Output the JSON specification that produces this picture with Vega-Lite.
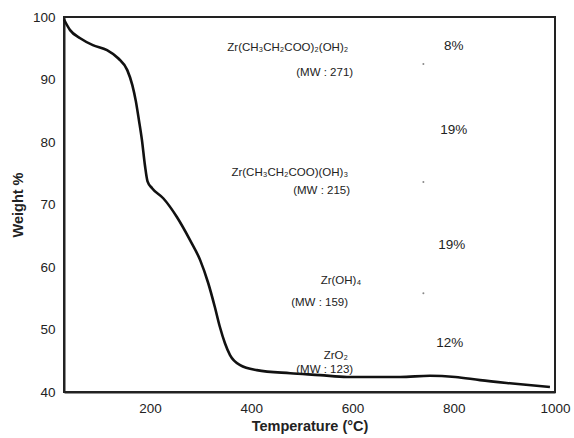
{
  "$schema": "https://vega.github.io/schema/vega-lite/v6.json",
  "width": 491,
  "height": 375,
  "autosize": "none",
  "padding": {"left": 64, "top": 17, "right": 19, "bottom": 46},
  "background": "white",
  "config": {
    "font": "Liberation Sans",
    "view": {"stroke": "#222", "strokeWidth": 2},
    "axis": {
      "grid": false,
      "ticks": false,
      "domainColor": "#222",
      "domainWidth": 2,
      "labelColor": "#222",
      "labelFontSize": 13.5,
      "titleColor": "#222",
      "titleFontSize": 14.5,
      "titleFontWeight": "bold"
    }
  },
  "datasets": {
    "tga": [
      {"t": 30, "w": 99.6},
      {"t": 42, "w": 97.9},
      {"t": 62, "w": 96.6},
      {"t": 87, "w": 95.5},
      {"t": 115, "w": 94.7},
      {"t": 137, "w": 93.4},
      {"t": 155, "w": 91.5},
      {"t": 165, "w": 89.1},
      {"t": 172, "w": 86.5},
      {"t": 178, "w": 83.5},
      {"t": 184, "w": 80.3},
      {"t": 190, "w": 76.2},
      {"t": 195, "w": 73.7},
      {"t": 204, "w": 72.6},
      {"t": 226, "w": 71.0},
      {"t": 253, "w": 68.0},
      {"t": 279, "w": 64.3},
      {"t": 299, "w": 61.1},
      {"t": 315, "w": 57.4},
      {"t": 328, "w": 53.6},
      {"t": 338, "w": 50.4},
      {"t": 348, "w": 47.8},
      {"t": 358, "w": 45.9},
      {"t": 378, "w": 44.3},
      {"t": 411, "w": 43.5},
      {"t": 477, "w": 43.0},
      {"t": 536, "w": 42.7},
      {"t": 589, "w": 42.4},
      {"t": 694, "w": 42.4},
      {"t": 753, "w": 42.6},
      {"t": 803, "w": 42.4},
      {"t": 852, "w": 41.9},
      {"t": 911, "w": 41.4},
      {"t": 990, "w": 40.8}
    ],
    "species": [
      {"t": 472, "w": 95.0, "label": "Zr(CH₃CH₂COO)₂(OH)₂"},
      {"t": 545, "w": 91.1, "label": "(MW : 271)"},
      {"t": 476, "w": 75.0, "label": "Zr(CH₃CH₂COO)(OH)₃"},
      {"t": 539, "w": 72.1, "label": "(MW : 215)"},
      {"t": 577, "w": 57.7, "label": "Zr(OH)₄"},
      {"t": 535, "w": 54.3, "label": "(MW : 159)"},
      {"t": 567, "w": 45.7, "label": "ZrO₂"},
      {"t": 545, "w": 43.5, "label": "(MW : 123)"}
    ],
    "losses": [
      {"t": 800, "w": 95.3, "label": "8%"},
      {"t": 800, "w": 82.0, "label": "19%"},
      {"t": 796, "w": 63.5, "label": "19%"},
      {"t": 792, "w": 47.8, "label": "12%"}
    ],
    "marks": [
      {"t": 740, "w": 92.5},
      {"t": 740, "w": 73.6},
      {"t": 740, "w": 55.8}
    ]
  },
  "encoding": {
    "x": {
      "field": "t",
      "type": "quantitative",
      "scale": {"domain": [30, 1000], "nice": false, "zero": false},
      "axis": {
        "title": "Temperature (°C)",
        "values": [200, 400, 600, 800, 1000],
        "format": "d",
        "labelPadding": 9,
        "titlePadding": 5,
        "labelFlush": false
      }
    },
    "y": {
      "field": "w",
      "type": "quantitative",
      "scale": {"domain": [40, 100], "nice": false, "zero": false},
      "axis": {
        "title": "Weight %",
        "values": [40, 50, 60, 70, 80, 90, 100],
        "labelPadding": 9,
        "titlePadding": 7,
        "labelFlush": false
      }
    }
  },
  "layer": [
    {
      "data": {"name": "tga"},
      "mark": {"type": "line", "interpolate": "monotone", "color": "#111", "strokeWidth": 2.6}
    },
    {
      "data": {"name": "species"},
      "mark": {"type": "text", "fontSize": 11.5, "color": "#222", "align": "center", "baseline": "middle"},
      "encoding": {"text": {"field": "label"}}
    },
    {
      "data": {"name": "losses"},
      "mark": {"type": "text", "fontSize": 13.5, "color": "#222", "align": "center", "baseline": "middle"},
      "encoding": {"text": {"field": "label"}}
    },
    {
      "data": {"name": "marks"},
      "mark": {"type": "point", "filled": true, "size": 4, "color": "#555"}
    }
  ]
}
